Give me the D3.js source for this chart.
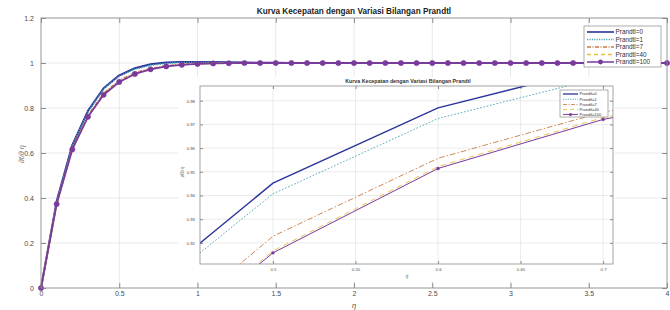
<!DOCTYPE html>
<html><head><meta charset="utf-8">
<script src="https://cdn.jsdelivr.net/npm/d3@7"></script>
<style>
html,body{margin:0;padding:0;background:#fff;}
svg{display:block;font-family:"Liberation Sans",Arial,sans-serif;}
</style></head>
<body>
<svg id="chart" width="670" height="310"></svg>
<script>
// ---------- data ----------
const eta = [0,0.1,0.2,0.3,0.4,0.5,0.6,0.7,0.8,0.9,1.0,1.1,1.2,1.3,1.4,1.5,1.6,1.7,1.8,1.9,2.0,
             2.1,2.2,2.3,2.4,2.5,2.6,2.7,2.8,2.9,3.0,3.1,3.2,3.3,3.4,3.5,3.6,3.7,3.8,3.9,4.0];
const pr0   = [0,0.385,0.635,0.787,0.888,0.9452,0.977,0.9945,1.002,1.005,1.005,1.004,1.003,1.002,1.001,1.001,1.0,1.0,1.0,1.0,1.0,
               1.0,1.0,1.0,1.0,1.0,1.0,1.0,1.0,1.0,1.0,1.0,1.0,1.0,1.0,1.0,1.0,1.0,1.0,1.0,1.0];
const pr1   = [0,0.380,0.630,0.782,0.8844,0.9407,0.9725,0.990,0.998,1.002,1.003,1.003,1.002,1.001,1.001,1.0,1.0,1.0,1.0,1.0,1.0,
               1.0,1.0,1.0,1.0,1.0,1.0,1.0,1.0,1.0,1.0,1.0,1.0,1.0,1.0,1.0,1.0,1.0,1.0,1.0,1.0];
const pr7   = [0,0.375,0.620,0.766,0.8643,0.9228,0.9557,0.9752,0.987,0.994,0.997,0.999,1.0,1.0,1.0,1.0,1.0,1.0,1.0,1.0,1.0,
               1.0,1.0,1.0,1.0,1.0,1.0,1.0,1.0,1.0,1.0,1.0,1.0,1.0,1.0,1.0,1.0,1.0,1.0,1.0,1.0];
const pr40  = [0,0.373,0.617,0.762,0.8596,0.9166,0.9522,0.9729,0.986,0.993,0.996,0.998,0.999,1.0,1.0,1.0,1.0,1.0,1.0,1.0,1.0,
               1.0,1.0,1.0,1.0,1.0,1.0,1.0,1.0,1.0,1.0,1.0,1.0,1.0,1.0,1.0,1.0,1.0,1.0,1.0,1.0];
const pr100 = [0,0.373,0.616,0.761,0.8588,0.9158,0.9514,0.9721,0.985,0.992,0.996,0.998,0.999,1.0,1.0,1.0,1.0,1.0,1.0,1.0,1.0,
               1.0,1.0,1.0,1.0,1.0,1.0,1.0,1.0,1.0,1.0,1.0,1.0,1.0,1.0,1.0,1.0,1.0,1.0,1.0,1.0];
const seriesNames = ["Prandtl=0","Prandtl=1","Prandtl=7","Prandtl=40","Prandtl=100"];
const mainXTicks = [0,0.5,1,1.5,2,2.5,3,3.5,4];
const mainYTicks = [0,0.2,0.4,0.6,0.8,1,1.2];
const insetXTicks = [0.5,0.55,0.6,0.65,0.7];
const insetYTicks = [0.92,0.93,0.94,0.95,0.96,0.97,0.98];
const titleText = "Kurva Kecepatan dengan Variasi Bilangan Prandtl";

// ---------- styles ----------
const allSeries = [pr0, pr1, pr7, pr40, pr100];
const styles = [
  {color:"#2b339a", dash:null,        w:2.0, wi:1.4, marker:false},
  {color:"#4ba6b4", dash:"1.2,1.2",   w:1.6, wi:0.9, marker:false},
  {color:"#c77a45", dash:"4,1.5,1,1.5", w:1.8, wi:0.9, marker:false},
  {color:"#e6bf3c", dash:"4,3",       w:1.6, wi:0.9, marker:false},
  {color:"#7a3a9c", dash:null,        w:1.8, wi:1.0, marker:true}
];

const svg = d3.select("#chart");
const gridC = "#e3e3e3", boxC = "#8c8c8c", txtC = "#4a4a4a";

// ---------- main axes ----------
const x = d3.scaleLinear().domain([0,4]).range([41,667]);
const y = d3.scaleLinear().domain([0,1.2]).range([288,18]);

const main = svg.append("g");
main.append("g").selectAll("line").data(mainXTicks.slice(1,-1)).join("line")
  .attr("x1",d=>x(d)).attr("x2",d=>x(d)).attr("y1",y(1.2)).attr("y2",y(0))
  .attr("stroke",gridC).attr("stroke-width",0.8);
main.append("g").selectAll("line").data(mainYTicks.slice(1,-1)).join("line")
  .attr("y1",d=>y(d)).attr("y2",d=>y(d)).attr("x1",x(0)).attr("x2",x(4))
  .attr("stroke",gridC).attr("stroke-width",0.8);

function styleAxis(g, fs){
  g.select(".domain").remove();
  g.selectAll(".tick line").attr("stroke",boxC);
  g.selectAll(".tick text").attr("fill",txtC).attr("font-size",fs);
}
const fmtMain = d => d3.format("~g")(d);
main.append("g").attr("transform",`translate(0,${y(0)})`)
  .call(d3.axisBottom(x).tickValues(mainXTicks).tickFormat(fmtMain).tickSizeInner(-5).tickSizeOuter(0).tickPadding(3))
  .call(g=>styleAxis(g,7));
main.append("g").attr("transform",`translate(0,${y(1.2)})`)
  .call(d3.axisTop(x).tickValues(mainXTicks).tickFormat("").tickSizeInner(-5).tickSizeOuter(0))
  .call(g=>styleAxis(g,7));
main.append("g").attr("transform",`translate(${x(0)},0)`)
  .call(d3.axisLeft(y).tickValues(mainYTicks).tickFormat(fmtMain).tickSizeInner(-5).tickSizeOuter(0).tickPadding(7))
  .call(g=>styleAxis(g,7));
main.append("g").attr("transform",`translate(${x(4)},0)`)
  .call(d3.axisRight(y).tickValues(mainYTicks).tickFormat("").tickSizeInner(-5).tickSizeOuter(0))
  .call(g=>styleAxis(g,7));

// lines main
const lineMain = d3.line().x((d,i)=>x(eta[i])).y(d=>y(d));
allSeries.forEach((s,k)=>{
  const st = styles[k];
  main.append("path").datum(s).attr("d",lineMain).attr("fill","none")
    .attr("stroke",st.color).attr("stroke-width",st.w)
    .attr("stroke-dasharray",st.dash).attr("stroke-linejoin","round");
  if(st.marker){
    main.append("g").selectAll("circle").data(s).join("circle")
      .attr("cx",(d,i)=>x(eta[i])).attr("cy",d=>y(d)).attr("r",2.6)
      .attr("fill",st.color).attr("stroke",st.color).attr("stroke-width",0.6);
  }
});
main.append("rect").attr("x",x(0)).attr("y",y(1.2)).attr("width",x(4)-x(0)).attr("height",y(0)-y(1.2))
  .attr("fill","none").attr("stroke",boxC).attr("stroke-width",0.9);

main.append("text").attr("x",354).attr("y",14).attr("text-anchor","middle")
  .attr("font-size",8.2).attr("font-weight","bold").attr("fill","#222").text(titleText);
main.append("text").attr("x",354).attr("y",307.5).attr("text-anchor","middle")
  .attr("font-size",7.5).attr("fill",txtC).attr("font-style","italic").text("η");
main.append("text").attr("transform","translate(24,154) rotate(-90)").attr("text-anchor","middle")
  .attr("font-size",7.5).attr("fill","#777").attr("font-style","italic").text("∂f/∂ η");

// legend
function legend(g, lx, ly, w, h, rowY, sx1, sx2, tx, fs, lw, mr){
  g.append("rect").attr("x",lx).attr("y",ly).attr("width",w).attr("height",h)
    .attr("fill","#fff").attr("stroke","#777").attr("stroke-width",0.6);
  seriesNames.forEach((n,k)=>{
    const st = styles[k], yy = rowY[k];
    g.append("line").attr("x1",sx1).attr("x2",sx2).attr("y1",yy).attr("y2",yy)
      .attr("stroke",st.color).attr("stroke-width",lw[k]).attr("stroke-dasharray",st.dash);
    if(st.marker) g.append("circle").attr("cx",(sx1+sx2)/2).attr("cy",yy).attr("r",mr).attr("fill",st.color);
    g.append("text").attr("x",tx).attr("y",yy).attr("dy","0.35em").attr("font-size",fs)
      .attr("fill","#333").text(n);
  });
}
legend(main, 584, 26, 77, 41, [32,39.5,47,54.5,62], 587, 614, 615.5, 6.4, [1.6,1.4,1.5,1.4,1.5], 2.4);

// ---------- inset ----------
const ins = svg.append("g");
ins.append("rect").attr("x",178).attr("y",77).attr("width",437).attr("height",204).attr("fill","#fff");
const xi = d3.scaleLinear().domain([0.4558,0.706]).range([200,613]);
const yi = d3.scaleLinear().domain([0.9111,0.9862]).range([264,86]);

ins.append("g").selectAll("line").data(insetXTicks).join("line")
  .attr("x1",d=>xi(d)).attr("x2",d=>xi(d)).attr("y1",yi.range()[1]).attr("y2",yi.range()[0])
  .attr("stroke",gridC).attr("stroke-width",0.7);
ins.append("g").selectAll("line").data(insetYTicks).join("line")
  .attr("y1",d=>yi(d)).attr("y2",d=>yi(d)).attr("x1",xi.range()[0]).attr("x2",xi.range()[1])
  .attr("stroke",gridC).attr("stroke-width",0.7);

ins.append("g").attr("transform",`translate(0,264)`)
  .call(d3.axisBottom(xi).tickValues(insetXTicks).tickFormat(d3.format("~g")).tickSizeInner(-3).tickSizeOuter(0).tickPadding(4))
  .call(g=>styleAxis(g,4.3));
ins.append("g").attr("transform",`translate(0,86)`)
  .call(d3.axisTop(xi).tickValues(insetXTicks).tickFormat("").tickSizeInner(-3).tickSizeOuter(0))
  .call(g=>styleAxis(g,4.3));
ins.append("g").attr("transform",`translate(200,0)`)
  .call(d3.axisLeft(yi).tickValues(insetYTicks).tickFormat(d3.format(".2f")).tickSizeInner(-3).tickSizeOuter(0).tickPadding(5))
  .call(g=>styleAxis(g,4.3));
ins.append("g").attr("transform",`translate(613,0)`)
  .call(d3.axisRight(yi).tickValues(insetYTicks).tickFormat("").tickSizeInner(-3).tickSizeOuter(0))
  .call(g=>styleAxis(g,4.3));

svg.append("defs").append("clipPath").attr("id","insclip").append("rect")
  .attr("x",200).attr("y",86).attr("width",413).attr("height",178);
const plotIns = ins.append("g").attr("clip-path","url(#insclip)");
const lineIns = d3.line().x((d,i)=>xi(eta[i])).y(d=>yi(d));
allSeries.forEach((s,k)=>{
  const st = styles[k];
  plotIns.append("path").datum(s).attr("d",lineIns).attr("fill","none")
    .attr("stroke",st.color).attr("stroke-width",st.wi)
    .attr("stroke-dasharray",st.dash ? st.dash.split(",").map(v=>v*1.4).join(",") : null);
  if(st.marker){
    plotIns.append("g").selectAll("circle").data(s).join("circle")
      .attr("cx",(d,i)=>xi(eta[i])).attr("cy",d=>yi(d)).attr("r",1.7).attr("fill",st.color);
  }
});
ins.append("rect").attr("x",200).attr("y",86).attr("width",413).attr("height",178)
  .attr("fill","none").attr("stroke",boxC).attr("stroke-width",0.8);

ins.append("text").attr("x",408).attr("y",83).attr("text-anchor","middle")
  .attr("font-size",5.3).attr("font-weight","bold").attr("fill","#333").text(titleText);
ins.append("text").attr("x",407).attr("y",278).attr("text-anchor","middle")
  .attr("font-size",4.5).attr("fill",txtC).attr("font-style","italic").text("η");
ins.append("text").attr("transform","translate(184,172) rotate(-90)").attr("text-anchor","middle")
  .attr("font-size",4.5).attr("fill","#666").attr("font-style","italic").text("∂f/∂ η");

legend(ins, 560, 90, 48, 27, [94,99.3,104.6,109.6,114.4], 563, 578, 579.5, 4, [1.3,0.9,0.9,0.9,1.0], 1.5);
</script>
</body></html>
